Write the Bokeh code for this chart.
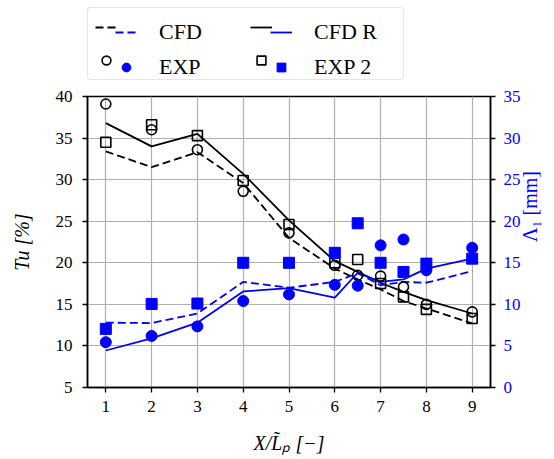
import math

from bokeh.embed import file_html
from bokeh.layouts import column
from bokeh.models import FixedTicker, Legend, LegendItem, LinearAxis, Range1d
from bokeh.plotting import figure
from bokeh.resources import INLINE

# Streamwise stations (X / L_p)
x_pos = [1, 2, 3, 4, 5, 6, 6.5, 7, 7.5, 8, 9]

# Turbulence intensity Tu [%] (left axis)
tu_cfd = [33.4, 31.5, 33.3, 29.6, 23.0, 19.3, 18.0, 16.8, 15.4, 14.5, 12.7]
tu_cfd_r = [36.8, 34.0, 35.5, 30.7, 25.1, 20.2, 18.9, 17.6, 16.5, 15.5, 13.9]
tu_exp = [39.1, 36.0, 33.6, 28.6, 23.6, 19.7, 18.5, 18.4, 17.1, 15.0, 14.1]
tu_exp2 = [34.5, 36.6, 35.3, 29.9, 24.6, 20.0, 20.4, 17.5, 15.9, 14.4, 13.3]

# Integral length scale Lambda_1 [mm] (right axis)
lam_cfd = [7.8, 7.75, 8.9, 12.7, 12.0, 12.7, 13.75, 12.3, 12.7, 12.6, 14.0]
lam_cfd_r = [4.45, 5.9, 7.8, 11.55, 11.95, 10.8, 13.8, 12.7, 13.0, 14.3, 15.5]
lam_exp = [5.45, 6.2, 7.35, 10.4, 11.2, 12.35, 12.25, 17.1, 17.8, 14.1, 16.8]
lam_exp2 = [7.05, 10.05, 10.1, 15.0, 15.0, 16.2, 19.75, 15.0, 13.9, 14.9, 15.5]

x_ticks = [1, 2, 3, 4, 5, 6, 7, 8, 9]
tu_ticks = [5, 10, 15, 20, 25, 30, 35, 40]
lam_ticks = [0, 5, 10, 15, 20, 25, 30, 35]

series_labels = ["CFD", "EXP", "CFD R", "EXP 2"]
tu_series = {"CFD": tu_cfd, "EXP": tu_exp, "CFD R": tu_cfd_r, "EXP 2": tu_exp2}
lam_series = {"CFD": lam_cfd, "EXP": lam_exp, "CFD R": lam_cfd_r, "EXP 2": lam_exp2}

FONT = "'Liberation Serif'"
BLUE = "#0000ff"
BLACK = "#000000"
LW = 1.8
DASH = "8 4"

# Per-series styles
line_styles = {"CFD": DASH, "CFD R": "solid"}
marker_styles = {"EXP": "circle", "EXP 2": "square"}

W = 554
LEG_H = 84
MAIN_H = 459 - LEG_H


def draw_series(fig, name, color, ys, **extra):
    """Draw one series as a line (CFD) or as markers (EXP)."""
    if name in line_styles:
        return fig.line(x_pos, ys, line_color=color, line_width=LW,
                        line_dash=line_styles[name], **extra)
    filled = color == BLUE
    return fig.scatter(x_pos, ys, marker=marker_styles[name],
                       size=11 if filled else 10,
                       line_color=color, line_width=1.0 if filled else 1.6,
                       fill_color=color if filled else None, **extra)


# ---------------------------------------------------------------- main plot
p = figure(
    width=W, height=MAIN_H,
    output_backend="svg", toolbar_location=None,
    x_range=Range1d(0.6, 9.4), y_range=Range1d(5, 40),
    min_border_left=87, min_border_right=64,
    min_border_top=12, min_border_bottom=72,
)
p.extra_y_ranges = {"lam": Range1d(0, 35)}
p.outline_line_color = BLACK
p.outline_line_width = 1.5
p.background_fill_color = "white"
p.border_fill_color = "white"

for grid in (p.xgrid, p.ygrid):
    grid.grid_line_color = "#b0b0b0"
    grid.grid_line_width = 1.2

x_axis = p.xaxis[0]
tu_axis = p.yaxis[0]
x_axis.ticker = FixedTicker(ticks=x_ticks)
tu_axis.ticker = FixedTicker(ticks=tu_ticks)
x_axis.axis_label = "X/L̃ₚ [−]"
tu_axis.axis_label = "Tu [%]"

lam_axis = LinearAxis(y_range_name="lam", ticker=FixedTicker(ticks=lam_ticks),
                      axis_label="Λ₁ [mm]")
p.add_layout(lam_axis, "right")

for ax in (x_axis, tu_axis, lam_axis):
    ax.axis_line_color = BLACK
    ax.axis_line_width = 1.5
    ax.major_tick_line_color = BLACK
    ax.major_tick_line_width = 1.3
    ax.major_tick_out = 5
    ax.major_tick_in = 0
    ax.minor_tick_line_color = None
    ax.major_label_text_font = FONT
    ax.major_label_text_font_size = "17px"
    ax.major_label_text_color = BLACK
    ax.axis_label_text_font = FONT
    ax.axis_label_text_font_size = "20px"
    ax.axis_label_text_color = BLACK

x_axis.axis_label_text_font_style = "italic"
tu_axis.axis_label_text_font_style = "italic"
lam_axis.axis_label_text_font_style = "normal"

x_axis.major_label_standoff = 8
x_axis.axis_label_standoff = 17
tu_axis.major_label_standoff = 10
tu_axis.axis_label_standoff = 20
lam_axis.major_label_standoff = 8
lam_axis.axis_label_standoff = 6
lam_axis.major_label_text_color = BLUE
lam_axis.axis_label_text_color = BLUE
lam_axis.axis_label_orientation = math.pi / 2

# Lines first, markers on top
for name in ("CFD", "CFD R"):
    draw_series(p, name, BLACK, tu_series[name])
for name in ("CFD", "CFD R"):
    draw_series(p, name, BLUE, lam_series[name], y_range_name="lam")
for name in ("EXP", "EXP 2"):
    draw_series(p, name, BLACK, tu_series[name])
for name in ("EXP", "EXP 2"):
    draw_series(p, name, BLUE, lam_series[name], y_range_name="lam")

# ------------------------------------------------------------ legend strip
leg = figure(
    width=W, height=LEG_H,
    output_backend="svg", toolbar_location=None,
    x_range=Range1d(-2, -1), y_range=Range1d(-2, -1),
    x_axis_type=None, y_axis_type=None, min_border=0,
)
leg.outline_line_color = None
leg.grid.visible = False

# Handle renderers for the legend; their data lies outside this strip's ranges
black_handle = {n: draw_series(leg, n, BLACK, tu_series[n]) for n in series_labels}
blue_handle = {n: draw_series(leg, n, BLUE, lam_series[n]) for n in series_labels}

# Framed legend with the black handles, then a transparent one on top that
# adds the blue handles and the labels.
common = dict(
    orientation="vertical", ncols=2, glyph_width=22, glyph_height=22,
    label_height=24, spacing=9, padding=7, margin=0,
    label_text_baseline="middle",
)
frame_style = dict(
    border_line_color="#cccccc", border_line_width=1.3,
    background_fill_color="white", background_fill_alpha=1.0,
)
if "border_radius" in Legend.properties():
    frame_style["border_radius"] = 4

legend_k = Legend(
    items=[LegendItem(label="", renderers=[black_handle[n]]) for n in series_labels],
    location=(0, 4), label_standoff=0, label_width=124,
    label_text_font_size="1px",
    **frame_style, **common,
)
legend_b = Legend(
    items=[LegendItem(label=n, renderers=[blue_handle[n]]) for n in series_labels],
    location=(28, 4), label_standoff=22, label_width=102,
    label_text_font=FONT, label_text_font_size="22px", label_text_color=BLACK,
    border_line_color=None, background_fill_alpha=0,
    **common,
)
leg.add_layout(legend_k, "center")
leg.add_layout(legend_b, "center")

layout = column(leg, p, spacing=0)
open("out.html", "w").write(file_html(layout, INLINE))
